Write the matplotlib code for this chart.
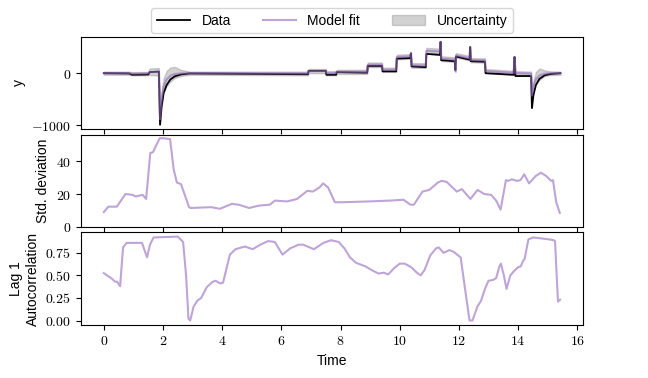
import numpy as np
import matplotlib.pyplot as plt
from matplotlib.ticker import FuncFormatter, MultipleLocator

plt.rcParams['font.family'] = ['Liberation Sans', 'DejaVu Sans']
plt.rcParams['mathtext.fontset'] = 'cm'
plt.rcParams['font.size'] = 10

t_top = [0.00, 0.85, 0.95, 1.50, 1.55, 1.86, 1.90, 1.95, 2.02, 2.12, 2.25, 2.40, 2.60, 2.90,
         6.90, 6.92, 7.50, 7.52, 7.85, 7.87, 8.90, 8.92, 9.40, 9.42, 9.88, 9.90, 10.35, 10.38,
         10.40, 10.88, 10.90, 11.36, 11.38, 11.40, 11.86, 11.88, 11.90, 12.36, 12.38, 12.40,
         12.88, 12.90, 13.85, 13.88, 13.91, 14.44, 14.47, 14.52, 14.60, 14.72, 14.90, 15.10, 15.43]
y_data = [0, -5, -30, -25, 20, 30, -990, -650, -380, -230, -120, -60, -25, -5,
          -20, 45, 45, -30, -30, 20, 10, 140, 140, 35, 35, 280, 290, 380,
          130, 115, 370, 350, 600, 250, 230, 60, 320, 260, 500, 230,
          220, 0, -30, 310, -55, -55, -670, -420, -230, -110, -40, -15, 0]
y_fit = [0, 0, -10, -5, 20, 25, -880, -520, -250, -120, -50, -15, -5, 0,
         -5, 40, 40, 0, 0, 25, 25, 160, 160, 65, 65, 310, 320, 380,
         150, 145, 430, 415, 600, 280, 260, 40, 340, 285, 500, 250,
         245, 40, 5, 310, 0, -10, -430, -260, -120, -45, -10, 0, 0]
y_lo = [-30, -30, -40, -40, -35, -45, -950, -640, -380, -250, -160, -90, -55, -30,
        -40, 0, 0, -40, -40, -15, -15, 115, 115, 25, 25, 265, 275, 350,
        105, 100, 380, 370, 560, 235, 215, 20, 300, 245, 470, 210,
        200, 0, -35, 280, -40, -50, -520, -360, -220, -130, -55, -35, -30]
y_hi = [30, 30, 20, 25, 90, 100, -800, -380, -100, 40, 110, 120, 65, 30,
        30, 80, 80, 40, 40, 65, 65, 205, 205, 105, 105, 355, 365, 410,
        195, 190, 485, 470, 620, 325, 305, 80, 385, 330, 520, 290,
        285, 80, 45, 330, 40, 30, -340, -150, 20, 90, 55, 35, 30]

# middle panel: rolling standard deviation
t_std = [0.00, 0.15, 0.44, 0.73, 0.97, 1.08, 1.31, 1.43, 1.57, 1.66, 1.78, 1.89, 2.01, 2.24,
         2.36, 2.47, 2.61, 2.88, 2.94, 3.63, 3.92, 4.33, 4.56, 4.91, 5.26, 5.61, 5.78, 6.19,
         6.42, 6.53, 6.88, 7.06, 7.29, 7.41, 7.58, 7.81, 8.04, 8.97, 9.67, 10.13, 10.36, 10.48,
         10.77, 11.00, 11.29, 11.41, 11.58, 11.93, 12.10, 12.39, 12.63, 12.86, 13.09, 13.26,
         13.41, 13.59, 13.67, 13.79, 13.96, 14.08, 14.21, 14.37, 14.60, 14.77, 14.95, 15.12,
         15.18, 15.29, 15.41]
std_vals = [9.0, 12.3, 12.3, 20.0, 19.5, 18.5, 19.5, 17.0, 45.0, 45.5, 50.0, 54.0, 54.0, 53.5,
            35.0, 27.0, 26.0, 12.0, 11.5, 12.0, 11.0, 14.0, 13.5, 11.5, 13.0, 13.5, 16.0, 15.5,
            16.5, 17.0, 22.0, 21.5, 24.0, 26.5, 24.0, 15.0, 15.0, 15.5, 16.0, 16.5, 13.5, 13.5,
            21.5, 22.5, 27.0, 28.0, 27.5, 21.5, 23.0, 17.0, 22.5, 20.0, 19.5, 16.0,
            10.5, 28.5, 28.0, 29.0, 28.0, 28.5, 32.0, 26.5, 31.0, 33.0, 31.0, 28.0,
            28.5, 15.0, 8.5]

# bottom panel: lag-1 autocorrelation
t_ac = [0.00, 0.15, 0.25, 0.38, 0.45, 0.55, 0.65, 0.77, 1.29, 1.46, 1.56, 1.68, 2.50, 2.68,
        2.78, 2.86, 2.92, 3.03, 3.16, 3.29, 3.48, 3.68, 3.78, 3.94, 4.03, 4.26, 4.45, 4.77,
        5.03, 5.29, 5.55, 5.78, 6.04, 6.30, 6.58, 6.74, 7.10, 7.42, 7.68, 7.94, 8.13, 8.32,
        8.52, 8.84, 9.10, 9.29, 9.46, 9.61, 9.81, 10.00, 10.17, 10.39, 10.58, 10.71, 10.84,
        11.03, 11.23, 11.32, 11.48, 11.68, 11.83, 11.94, 12.06, 12.23, 12.36, 12.46, 12.62,
        12.75, 12.88, 13.00, 13.16, 13.26, 13.37, 13.42, 13.52, 13.61, 13.74, 13.87, 14.00,
        14.09, 14.17, 14.22, 14.35, 14.52, 14.77, 15.03, 15.20, 15.25, 15.29, 15.35, 15.42]
ac_vals = [0.525, 0.49, 0.47, 0.43, 0.43, 0.38, 0.81, 0.86, 0.86, 0.70, 0.84, 0.92, 0.93, 0.87,
           0.50, 0.02, 0.00, 0.15, 0.22, 0.25, 0.37, 0.43, 0.44, 0.41, 0.42, 0.73, 0.79, 0.82,
           0.79, 0.84, 0.88, 0.87, 0.73, 0.80, 0.84, 0.84, 0.79, 0.86, 0.89, 0.87, 0.80, 0.70,
           0.64, 0.60, 0.55, 0.52, 0.53, 0.51, 0.58, 0.63, 0.63, 0.59, 0.53, 0.50, 0.56,
           0.72, 0.80, 0.81, 0.75, 0.78, 0.76, 0.73, 0.70, 0.30, 0.00, 0.00, 0.15,
           0.22, 0.35, 0.44, 0.45, 0.47, 0.60, 0.63, 0.50, 0.35, 0.50, 0.55, 0.59,
           0.60, 0.66, 0.68, 0.90, 0.92, 0.91, 0.90, 0.89, 0.88, 0.60, 0.21, 0.23]

purple = '#9467bd'


def tex_fmt(fmt):
    return FuncFormatter(lambda v, pos: '$' + fmt.format(v) + '$')


fig, axes = plt.subplots(3, 1, sharex=True, figsize=(6.48, 3.78), dpi=100)
fig.subplots_adjust(left=0.125, right=0.9, top=0.903, bottom=0.141, hspace=0.06)

ax = axes[0]
ax.plot(t_top, y_data, color='black', lw=1.3, label='Data')
ax.plot(t_top, y_fit, color=purple, alpha=0.6, lw=1.5, label='Model fit')
ax.fill_between(t_top, y_lo, y_hi, color='gray', alpha=0.35, label='Uncertainty')
ax.set_ylabel('y')
ax.yaxis.set_major_locator(MultipleLocator(1000))
ax.yaxis.set_major_formatter(tex_fmt('{:g}'))
ax.legend(loc='lower center', bbox_to_anchor=(0.5, 1.0), ncol=3, borderaxespad=0.25,
          handlelength=2.4, columnspacing=2.3)

ax = axes[1]
ax.plot(t_std, std_vals, color=purple, alpha=0.6, lw=1.5)
ax.set_ylim(bottom=0)
ax.set_ylabel('Std. deviation')
ax.yaxis.set_major_locator(MultipleLocator(20))
ax.yaxis.set_major_formatter(tex_fmt('{:g}'))

ax = axes[2]
ax.plot(t_ac, ac_vals, color=purple, alpha=0.6, lw=1.5)
ax.set_ylabel('Lag 1\nAutocorrelation')
ax.yaxis.set_major_locator(MultipleLocator(0.25))
ax.yaxis.set_major_formatter(tex_fmt('{:.2f}'))
ax.xaxis.set_major_locator(MultipleLocator(2))
ax.xaxis.set_major_formatter(tex_fmt('{:g}'))
ax.set_xlabel('Time')

plt.savefig('out.png')
